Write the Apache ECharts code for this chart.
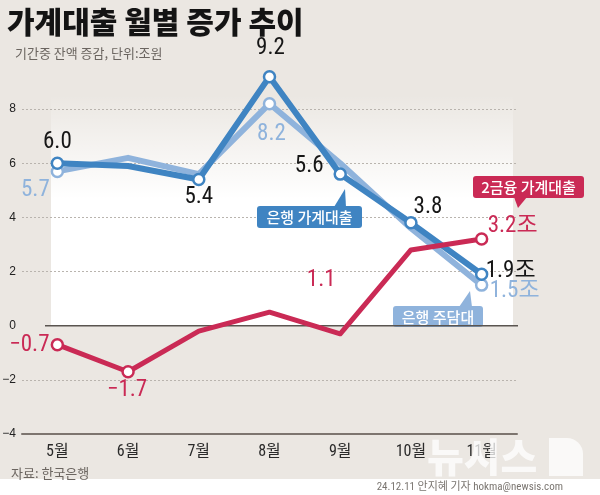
<!DOCTYPE html>
<html><head><meta charset="utf-8">
<script src="https://cdn.jsdelivr.net/npm/echarts@6.0.0/dist/echarts.min.js"></script>
<style>html,body{margin:0;padding:0;background:#fff}#c{width:600px;height:495px}</style>
</head><body><div id="c"></div>
<script>
// ---- data ----
const months = ['5월','6월','7월','8월','9월','10월','11월'];
const bankLoans = [6.0, 5.9, 5.4, 9.2, 5.6, 3.8, 1.9];      // 은행 가계대출
const bankMortgage = [5.7, 6.2, 5.6, 8.2, 6.0, 3.6, 1.5];   // 은행 주담대
const nonBankLoans = [-0.7, -1.7, -0.2, 0.5, -0.3, 2.8, 3.2]; // 2금융 가계대출
const yTicks = [-4, -2, 0, 2, 4, 6, 8];
const floatingNote = '1.1';
const seriesNames = ['은행 가계대출', '은행 주담대', '2금융 가계대출'];

// ---- style ----
const BG = '#ebe7e2';
const C_DARK = '#3f84c2', C_LIGHT = '#8fb3dc', C_RED = '#ca2a55';
const NUMFONT = "'Roboto Condensed','Noto Sans CJK KR',sans-serif";
const KFONT = "'Noto Sans CJK KR','Noto Sans',sans-serif";
const fmt = v => (v < 0 ? '−' : '') + Math.abs(v).toFixed(1);

function buildData(values, marks, labels, color, textColor) {
  return values.map((v, i) => {
    const item = { value: v, symbolSize: marks.includes(i) ? 11 : 0 };
    if (!marks.includes(i)) item.itemStyle = { borderWidth: 0, color: 'transparent' };
    const l = labels[i];
    if (l) {
      item.label = {
        show: true, position: 'inside', offset: l.off,
        formatter: l.text !== undefined ? l.text : fmt(v) + (l.suffix || ''),
        color: textColor, fontSize: 23, fontFamily: NUMFONT
      };
    } else item.label = { show: false };
    return item;
  });
}

const darkLabels = {0:{off:[0,-21]},2:{off:[0,18]},3:{off:[1,-28]},4:{off:[-31,-8]},5:{off:[17,-16]},6:{off:[29,-3],suffix:'조'}};
const lightLabels = {0:{off:[-22,19]},3:{off:[2,31]},6:{off:[33,6],suffix:'조'}};
const redLabels = {0:{off:[-28,1]},1:{off:[-1,19]},4:{off:[-19,-54],text:floatingNote},6:{off:[31,-13],suffix:'조'}};

const chart = echarts.init(document.getElementById('c'), null, {renderer:'canvas'});

function lineSeries(name, values, color, width, marks, labels, textColor, z) {
  return {
    type: 'line', name, z,
    data: buildData(values, marks, labels, color, textColor),
    symbol: 'circle',
    lineStyle: { color, width, cap: 'round', join: 'round' },
    itemStyle: { color: '#fff', borderColor: color, borderWidth: 2.5 },
    emphasis: { disabled: true },
    silent: true
  };
}

const option = {
  backgroundColor: BG,
  animation: false,
  grid: { left: 22, right: 83, top: 55, bottom: 61, containLabel: false, outerBoundsMode: 'none' },
  xAxis: {
    type: 'category', data: months, boundaryGap: true,
    axisLine: { onZero: false, lineStyle: { color: '#7d756f', width: 2 } },
    axisTick: { inside: true, length: 7, alignWithLabel: true, lineStyle: { color: '#7d756f', width: 1.5 } },
    axisLabel: { color: '#2a2a2a', fontSize: 16, fontFamily: NUMFONT, margin: 10 },
    splitLine: { show: false }
  },
  yAxis: {
    type: 'value', min: -4, max: 10, interval: 2,
    axisLine: { show: false }, axisTick: { show: false },
    axisLabel: {
      color: '#222', fontSize: 12, margin: 6, showMaxLabel: false, fontFamily: "'Liberation Sans','Arial',sans-serif",
      formatter: v => yTicks.includes(v) ? String(v).replace('-', '−') : ''
    },
    splitLine: { show: true, showMinLine: false, showMaxLine: false, lineStyle: { color: '#b9b4ae', type: [2, 2], width: 1 } }
  },
  series: [
    lineSeries(seriesNames[1], bankMortgage, C_LIGHT, 6, [0,3,6], lightLabels, C_LIGHT, 3),
    lineSeries(seriesNames[0], bankLoans, C_DARK, 6, [0,2,3,4,5,6], darkLabels, '#161616', 4),
    lineSeries(seriesNames[2], nonBankLoans, C_RED, 5, [0,1,6], redLabels, C_RED, 5)
  ]
};
chart.setOption(option);

const y0 = chart.convertToPixel({ yAxisIndex: 0 }, 0);

function callout(text, x, y, w, h, color, pointer) {
  return {
    type: 'group', z: 20, children: [
      { type: 'polygon', shape: { points: pointer }, style: { fill: color } },
      { type: 'rect', shape: { x, y, width: w, height: h, r: 3 }, style: { fill: color } },
      { type: 'text', style: { text, x: x + w / 2, y: y + h / 2 + 0.5, align: 'center', verticalAlign: 'middle',
        fill: '#fff', font: '500 15px ' + KFONT } }
    ]
  };
}

chart.setOption({
  graphic: [
    // white gradient panel
    { type: 'rect', z: -1, shape: { x: 51, y: 95, width: 462, height: y0 - 95 },
      style: { fill: new echarts.graphic.LinearGradient(0, 0, 0, 1, [
        { offset: 0, color: 'rgba(255,255,255,0)' },
        { offset: 0.45, color: 'rgba(255,255,255,1)' },
        { offset: 1, color: 'rgba(255,255,255,1)' }]) } },
    // cover dotted line at zero on the left, then solid zero line
    { type: 'line', z: 1, shape: { x1: 20, y1: y0, x2: 46, y2: y0 }, style: { stroke: BG, lineWidth: 3 } },
    { type: 'line', z: 1, shape: { x1: 45, y1: y0, x2: 518, y2: y0 }, style: { stroke: '#5a5550', lineWidth: 1.5 } },
    // footer strip
    { type: 'rect', z: 0, shape: { x: 0, y: 479, width: 600, height: 16 }, style: { fill: '#ffffff' } },
    // title & subtitle
    { type: 'text', z: 10, style: { text: '가계대출 월별 증가 추이', x: 7, y: 22, verticalAlign: 'middle',
      fill: '#141414', font: '900 30px ' + KFONT } },
    { type: 'text', z: 10, style: { text: '기간중 잔액 증감, 단위:조원', x: 15, y: 53, verticalAlign: 'middle',
      fill: '#6b6560', font: '13px ' + KFONT } },
    // source & credit
    { type: 'text', z: 10, style: { text: '자료: 한국은행', x: 11, y: 473, verticalAlign: 'middle',
      fill: '#6b6560', font: '13px ' + KFONT } },
    { type: 'text', z: 10, style: { text: '24.12.11 안지혜 기자 hokma@newsis.com', x: 563, y: 487, align: 'right', verticalAlign: 'middle',
      fill: '#7a7570', font: "11px 'Roboto Condensed','Noto Sans CJK KR',sans-serif" } },
    // watermark
    { type: 'text', z: 30, style: { text: '뉴시스', x: 427, y: 457, verticalAlign: 'middle',
      fill: 'rgba(255,255,255,0.75)', font: '900 40px ' + KFONT } },
    { type: 'rect', z: 30, shape: { x: 549, y: 438, width: 34, height: 38, r: [0, 16, 0, 0] },
      style: { fill: 'rgba(255,255,255,0.75)' } },
    // callout legends
    callout('은행 가계대출', 257, 206, 105, 22, C_DARK, [[334, 207], [346, 207], [345, 189]]),
    callout('2금융 가계대출', 473, 176, 111, 22, C_RED, [[514, 197], [527, 197], [518, 208]]),
    callout('은행 주담대', 393, 306, 90, 21, C_LIGHT, [[459, 307], [472, 307], [470, 291]])
  ]
});
</script></body></html>
